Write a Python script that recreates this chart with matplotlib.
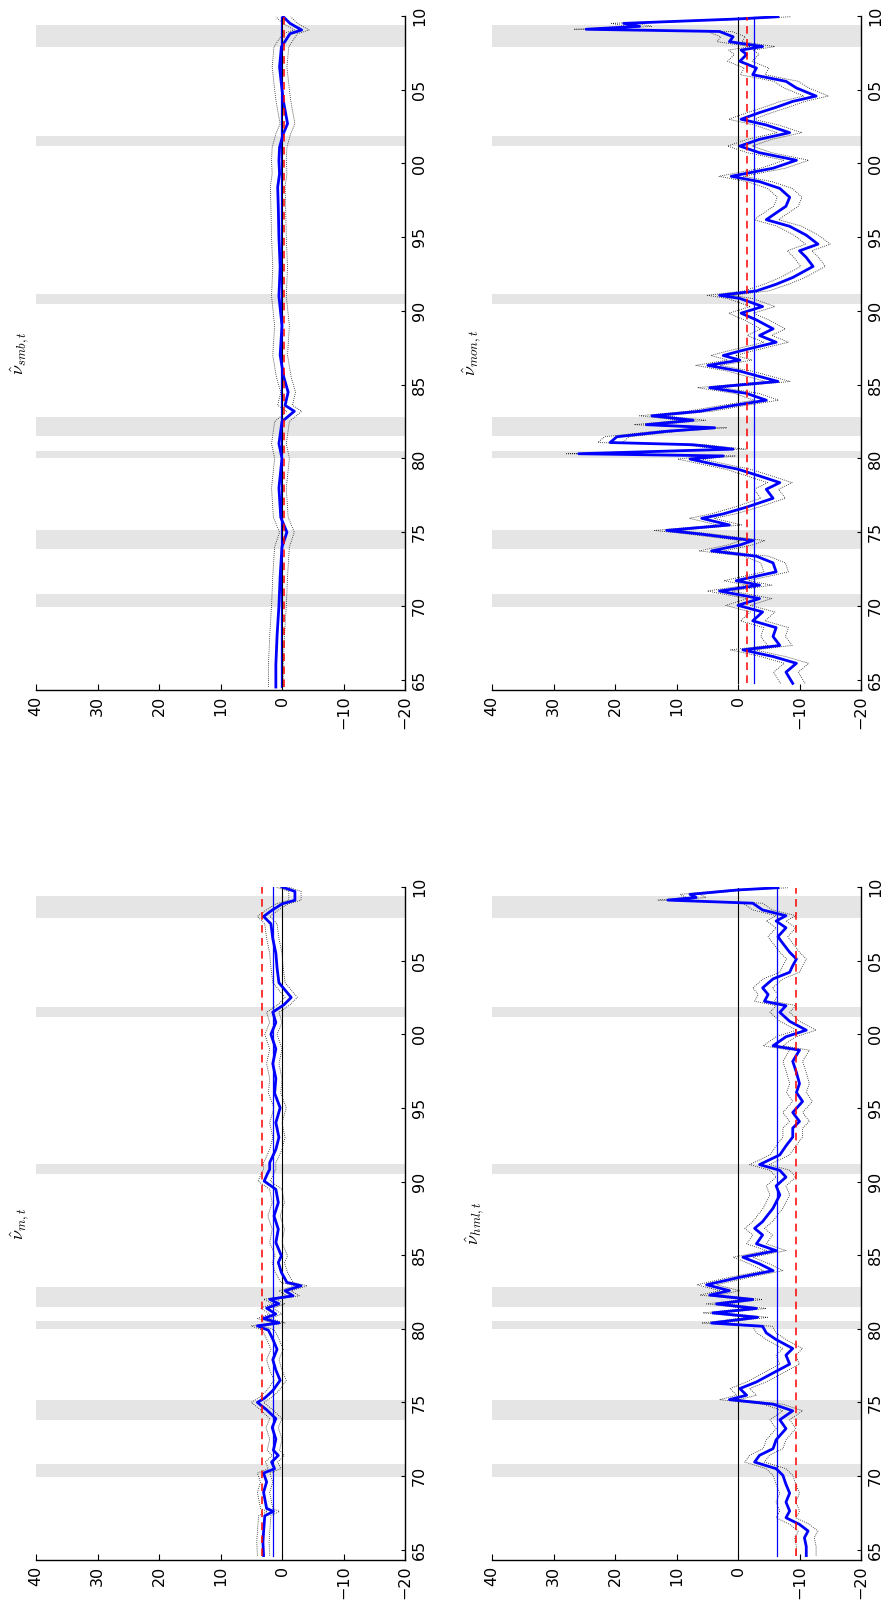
import numpy as np
import matplotlib.pyplot as plt

plt.rcParams['font.family'] = ['DejaVu Sans']
plt.rcParams['mathtext.fontset'] = 'cm'

# NBER recession periods (decimal years), shaded grey
rec_start = [1969.92, 1973.83, 1980.0, 1981.5, 1990.5, 2001.17, 2007.92]
rec_end = [1970.83, 1975.17, 1980.5, 1982.83, 1991.17, 2001.83, 2009.42]

year_ticks = [1965, 1970, 1975, 1980, 1985, 1990, 1995, 2000, 2005, 2010]
year_labels = ['65', '70', '75', '80', '85', '90', '95', '00', '05', '10']
value_ticks = [40, 30, 20, 10, 0, -10, -20]

# market
m_years = [1964.6, 1965.5, 1966.2, 1967.3, 1967.6, 1967.8, 1968.9, 1969.6, 1970.2, 1970.5,
           1970.95, 1971.4, 1971.75, 1972.5, 1973.3, 1973.9, 1974.5, 1975.0, 1975.3, 1975.8,
           1976.5, 1977.2, 1977.9, 1978.6, 1979.3, 1979.9, 1980.2, 1980.4, 1980.7, 1981.0,
           1981.4, 1981.7, 1982.0, 1982.24, 1982.58, 1982.92, 1983.15, 1983.83, 1984.5, 1984.95,
           1985.86, 1986.76, 1987.66, 1988.57, 1989.47, 1990.03, 1990.5, 1990.83, 1991.28, 1992.18,
           1993.0, 1994.0, 1995.0, 1996.0, 1997.0, 1998.0, 1999.0, 2000.0, 2000.8, 2001.5,
           2002.0, 2002.5, 2003.0, 2003.5, 2004.5, 2005.5, 2006.5, 2007.5, 2008.0, 2008.4,
           2008.85, 2009.1, 2009.7, 2010.0]
m_vals = [3.0, 3.1, 3.0, 2.8, 1.4, 2.5, 3.0, 2.5, 3.0, 1.2,
          1.7, 0.6, 1.4, 1.0, 1.6, 1.0, 2.5, 4.0, 2.8, 1.5,
          0.3, 1.0, 1.5, 0.8, 1.5, 2.2, 4.0, 0.5, 3.0, 1.0,
          2.5, 0.5, 2.0, -1.8, -0.5, -3.1, -0.8, 0.1, 0.6, 0.1,
          1.0, 0.6, 1.3, 0.6, 1.0, 2.9, 2.4, 2.0, 2.0, 1.0,
          0.5, 1.0, 0.3, 1.2, 1.0, 1.5, 1.0, 1.8, 1.0, 1.5,
          -0.3, -1.5, -0.5, 0.5, 0.8, 1.0, 1.5, 1.8, 3.0, 1.7,
          0.0, -2.1, -2.1, 0.0]

# size
smb_years = [1964.5, 1966.0, 1968.0, 1970.0, 1972.0, 1974.0, 1975.0, 1976.0, 1978.0, 1980.0,
             1981.0, 1982.5, 1983.2, 1983.6, 1984.5, 1985.5, 1987.0, 1989.0, 1991.0, 1993.0,
             1995.0, 1997.0, 1998.4, 1999.3, 2000.2, 2001.1, 2002.0, 2002.7, 2003.6, 2004.3,
             2005.4, 2006.55, 2007.9, 2008.8, 2009.05, 2009.5, 2009.95]
smb_vals = [1.0, 1.0, 0.8, 0.5, 0.3, 0.0, -0.8, 0.2, 0.5, 0.0,
            0.5, 0.0, -2.0, -0.5, -1.0, -0.3, 0.3, 0.0, 0.5, 0.3,
            0.5, 0.6, 0.7, 0.4, 0.5, 0.4, -0.2, -0.9, -0.5, -0.2,
            0.1, 0.4, 0.1, -1.3, -3.2, -1.3, -0.2]

# value
hml_years = [1964.60, 1965.21, 1965.81, 1966.27, 1966.72, 1967.17, 1967.63, 1968.23, 1968.84, 1969.44,
             1970.05, 1970.50, 1970.95, 1971.41, 1971.86, 1972.46, 1973.22, 1973.82, 1974.43, 1974.88,
             1975.19, 1975.49, 1975.94, 1976.39, 1977.00, 1977.60, 1978.21, 1978.66, 1979.27, 1979.72,
             1980.17, 1980.39, 1980.78, 1981.08, 1981.38, 1981.69, 1981.99, 1982.29, 1982.59, 1982.99,
             1983.50, 1983.95, 1984.41, 1984.86, 1985.31, 1985.77, 1986.37, 1986.82, 1987.28, 1988.19,
             1989.09, 1989.70, 1990.30, 1990.76, 1991.15, 1991.81, 1992.42, 1993.02, 1993.63, 1994.08,
             1994.69, 1995.44, 1996.05, 1996.65, 1997.41, 1998.16, 1998.92, 1999.22, 1999.83, 2000.28,
             2000.88, 2001.49, 2001.94, 2002.24, 2002.70, 2003.15, 2003.76, 2004.21, 2004.66, 2005.11,
             2005.57, 2006.33, 2006.63, 2007.23, 2007.69, 2008.05, 2008.44, 2008.90, 2009.11, 2009.29,
             2009.50, 2009.80, 2009.95]
hml_vals = [-11.1, -11.1, -10.8, -11.4, -10.0, -7.8, -8.4, -7.8, -8.4, -7.8,
            -7.3, -6.2, -2.7, -3.5, -5.7, -6.2, -7.8, -6.8, -8.9, -5.7,
            1.4, -1.4, -0.3, -3.0, -5.7, -8.4, -7.8, -8.9, -6.2, -4.6,
            -4.0, 4.3, -3.2, 4.1, -3.0, 3.5, -2.4, 4.6, 1.4, 5.1,
            -0.3, -5.7, -3.5, -0.8, -6.2, -3.0, -4.0, -2.7, -4.0, -5.7,
            -6.8, -6.2, -7.8, -6.8, -3.5, -6.8, -7.8, -8.9, -8.9, -10.0,
            -8.9, -10.5, -9.5, -10.0, -9.5, -8.9, -10.0, -5.7, -7.8, -11.1,
            -8.4, -6.8, -7.8, -4.3, -4.9, -4.0, -5.7, -8.4, -8.9, -9.5,
            -8.4, -7.0, -6.5, -7.8, -6.2, -7.8, -4.0, -2.4, 11.4, 6.8,
            7.8, 0.0, -6.5]

# momentum
mon_years = [1964.75, 1965.51, 1966.11, 1966.57, 1967.02, 1967.32, 1967.93, 1968.53, 1968.99, 1969.59,
             1970.04, 1970.50, 1971.01, 1971.41, 1971.71, 1972.31, 1972.92, 1973.37, 1973.73, 1974.13,
             1974.43, 1974.88, 1975.12, 1975.49, 1975.94, 1976.24, 1976.70, 1977.30, 1977.91, 1978.36,
             1978.81, 1979.27, 1979.57, 1979.96, 1980.17, 1980.32, 1980.63, 1980.93, 1981.08, 1981.47,
             1981.84, 1982.08, 1982.29, 1982.59, 1982.89, 1983.20, 1983.59, 1983.95, 1984.41, 1984.80,
             1985.22, 1985.92, 1986.31, 1986.67, 1986.98, 1987.28, 1987.88, 1988.34, 1988.79, 1989.39,
             1989.85, 1990.30, 1990.85, 1991.06, 1991.36, 1991.81, 1992.27, 1993.02, 1993.63, 1994.08,
             1994.53, 1995.14, 1995.74, 1996.19, 1996.65, 1997.10, 1997.71, 1998.31, 1998.77, 1999.13,
             1999.68, 2000.22, 2000.73, 2001.18, 2001.64, 2002.09, 2002.61, 2003.00, 2003.45, 2003.81,
             2004.21, 2004.57, 2005.12, 2005.57, 2006.02, 2006.47, 2006.93, 2007.39, 2007.69, 2007.93,
             2008.14, 2008.26, 2008.59, 2008.95, 2009.10, 2009.30, 2009.50, 2009.80, 2009.95]
mon_vals = [-8.9, -7.8, -9.5, -5.7, -0.8, -6.8, -5.7, -6.2, -2.4, -4.0,
            0.0, -3.5, 3.0, -3.5, 0.3, -6.2, -5.7, -3.0, 4.3, -0.3,
            -2.4, 6.2, 11.6, 1.4, 5.9, 2.4, -1.4, -5.7, -4.6, -6.8,
            -3.5, 0.0, 3.5, 7.8, 2.4, 25.9, 0.8, 7.3, 20.8, 19.7,
            11.6, 3.8, 14.9, 7.3, 14.0, 6.2, 0.8, -4.6, -1.4, 4.6,
            -6.5, -0.3, 4.9, -0.3, 2.4, -0.3, -6.2, -3.5, -5.7, -3.0,
            -0.5, -4.0, -0.3, 3.0, -3.0, -6.2, -8.9, -12.2, -11.1, -10.0,
            -13.0, -11.1, -8.4, -4.6, -6.2, -7.8, -8.4, -6.8, -3.5, 1.1,
            -5.7, -9.5, -3.5, -0.3, -3.5, -8.4, -4.6, -0.5, -3.5, -6.2,
            -8.9, -12.7, -9.5, -7.8, -2.4, -3.0, -0.3, -1.4, -0.5, -4.0,
            -0.5, 1.4, 0.8, 3.0, 24.7, 16.0, 18.6, 0.0, -6.5]

# standard errors and reference levels for each panel
se = {'m': 0.5, 'smb': 0.6, 'hml': 0.8, 'mon': 1.0}
blue_level = {'m': 1.5, 'smb': 0.2, 'hml': -6.3, 'mon': -2.6}
red_level = {'m': 3.3, 'smb': -0.4, 'hml': -9.5, 'mon': -1.5}

W, H = 882, 1603
fig = plt.figure(figsize=(W / 100, H / 100), dpi=100)


def panel(left_px, top_px, height_px, years, vals, key, title, title_px):
    ax = fig.add_axes([left_px / W, 1 - (top_px + height_px) / H, 369 / W, height_px / H])
    for a, b in zip(rec_start, rec_end):
        ax.axhspan(a, b, color='#e5e5e5', lw=0, zorder=0)
    years = np.array(years)
    vals = np.array(vals)
    span = [years[0], years[-1]]
    ax.plot([0, 0], span, color='k', lw=0.8, zorder=1)
    ax.plot(vals + 2 * se[key], years, color='0.1', lw=0.6, ls=(0, (1, 1.5)), zorder=2)
    ax.plot(vals - 2 * se[key], years, color='0.1', lw=0.6, ls=(0, (1, 1.5)), zorder=2)
    ax.plot(vals, years, color='#0000ff', lw=2.0, zorder=3)
    ax.plot([blue_level[key]] * 2, span, color='#0000ff', lw=0.9, zorder=3)
    ax.plot([red_level[key]] * 2, span, color='#ff0000', lw=1.1, ls=(0, (5, 3.5)), zorder=4)

    ax.set_xlim(40, -20)
    ax.set_ylim(1964.3, 2010)
    ax.set_xticks(value_ticks)
    ax.set_yticks(year_ticks)
    ax.set_yticklabels(year_labels)
    ax.yaxis.tick_right()
    for s in ['top', 'left']:
        ax.spines[s].set_visible(False)
    for s in ['bottom', 'right']:
        ax.spines[s].set_linewidth(1.0)
    ax.tick_params(axis='x', direction='in', length=4, width=0.8, pad=4,
                   labelsize=11.5, labelrotation=90)
    ax.tick_params(axis='y', direction='in', length=3, width=0.8, pad=5,
                   labelsize=11.5, labelrotation=90)
    for lab in ax.get_yticklabels():
        lab.set_va('center')
    fig.text(title_px / W, 1 - (top_px + height_px / 2) / H, title,
             rotation=90, ha='center', va='center', fontsize=13)
    return ax


panel(36, 887, 673, m_years, m_vals, 'm', r'$\hat{\nu}_{m,t}$', 20)
panel(36, 16, 674, smb_years, smb_vals, 'smb', r'$\hat{\nu}_{smb,t}$', 20)
panel(492, 887, 673, hml_years, hml_vals, 'hml', r'$\hat{\nu}_{hml,t}$', 475)
panel(492, 16, 674, mon_years, mon_vals, 'mon', r'$\hat{\nu}_{mon,t}$', 472)

fig.savefig('out.png', dpi=100)
